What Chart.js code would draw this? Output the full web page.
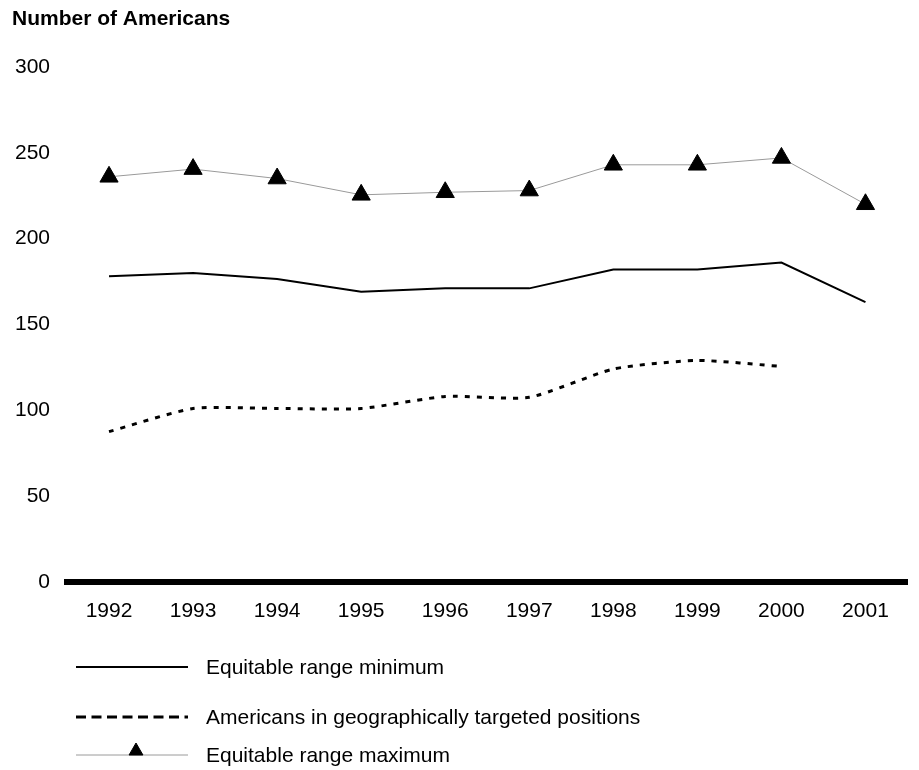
<!DOCTYPE html>
<html>
<head>
<meta charset="utf-8">
<script src="https://cdn.jsdelivr.net/npm/chart.js@4.4.0/dist/chart.umd.min.js"></script>
<style>
    html, body { margin: 0; padding: 0; background: #fff; }
    #wrap { width: 919px; height: 770px; }
</style>
</head>
<body>
<div id="wrap"><canvas id="chart" width="919" height="770"></canvas></div>
<script>
const years = ['1992', '1993', '1994', '1995', '1996', '1997', '1998', '1999', '2000', '2001'];
const rangeMinimum = [178, 180, 176.5, 169, 171, 171, 182, 182, 186, 163];
const targetedPositions = [87.5, 101, 101, 101, 108, 107.5, 124, 129, 125.5, null];
const rangeMaximum = [236, 240.5, 235, 225.5, 227, 228, 243, 243, 247, 220];
const legendLabels = ['Equitable range minimum', 'Americans in geographically targeted positions', 'Equitable range maximum'];

const FONT = '"Liberation Sans", Arial, Helvetica, sans-serif';

// title + custom legend (line samples like the original figure)
const decorPlugin = {
    id: 'decor',
    afterDraw(chart) {
        const ctx = chart.ctx;
        ctx.save();
        ctx.fillStyle = '#000';
        ctx.font = 'bold 21px ' + FONT;
        ctx.textBaseline = 'alphabetic';
        ctx.textAlign = 'left';
        ctx.fillText('Number of Americans', 12, 25);

        const rows = [667, 717, 755];
        const x0 = 76, x1 = 188;
        chart.data.datasets.forEach((ds, i) => {
            const y = rows[i];
            ctx.beginPath();
            ctx.strokeStyle = ds.borderColor;
            ctx.lineWidth = ds.borderWidth;
            ctx.setLineDash(i === 1 ? [10, 5.5] : []);
            ctx.moveTo(x0, y);
            ctx.lineTo(x1, y);
            ctx.stroke();
            ctx.setLineDash([]);
            if (ds.pointStyle === 'triangle') {
                ctx.fillStyle = '#000';
                ctx.strokeStyle = '#000';
                ctx.lineWidth = 1;
                Chart.helpers.drawPoint(ctx, { pointStyle: 'triangle', radius: 8, borderWidth: 1 }, 136, y - 4);
            }
            ctx.fillStyle = '#000';
            ctx.font = '21px ' + FONT;
            ctx.textBaseline = 'middle';
            ctx.fillText(ds.label, 206, y + 1);
        });
        ctx.restore();
    }
};

new Chart(document.getElementById('chart'), {
    type: 'line',
    data: {
        labels: years,
        datasets: [
            {
                label: legendLabels[0],
                data: rangeMinimum,
                borderColor: '#000',
                borderWidth: 2,
                pointRadius: 0,
                tension: 0
            },
            {
                label: legendLabels[1],
                data: targetedPositions,
                borderColor: '#000',
                borderWidth: 3,
                borderDash: [5, 7],
                pointRadius: 0,
                tension: 0.2,
                spanGaps: false
            },
            {
                label: legendLabels[2],
                data: rangeMaximum,
                borderColor: '#9a9a9a',
                borderWidth: 1,
                pointStyle: 'triangle',
                pointRadius: 10.5,
                pointBackgroundColor: '#000',
                pointBorderColor: '#000',
                pointBorderWidth: 1,
                tension: 0
            }
        ]
    },
    options: {
        responsive: false,
        animation: false,
        layout: { padding: { top: 67, left: 0, right: 8, bottom: 129 } },
        plugins: {
            legend: { display: false },
            title: { display: false },
            tooltip: { enabled: false }
        },
        scales: {
            x: {
                offset: true,
                grid: { display: false, drawTicks: false },
                border: { display: true, color: '#000', width: 6 },
                ticks: {
                    color: '#000',
                    font: { family: FONT, size: 21 },
                    padding: 17,
                    maxRotation: 0
                }
            },
            y: {
                min: 0,
                max: 300,
                grid: { display: false, drawTicks: false },
                border: { display: false },
                ticks: {
                    stepSize: 50,
                    color: '#000',
                    padding: 17,
                    font: { family: FONT, size: 21 }
                },
                afterFit(scale) { scale.width = 67; }
            }
        }
    },
    plugins: [decorPlugin]
});
</script>
</body>
</html>
